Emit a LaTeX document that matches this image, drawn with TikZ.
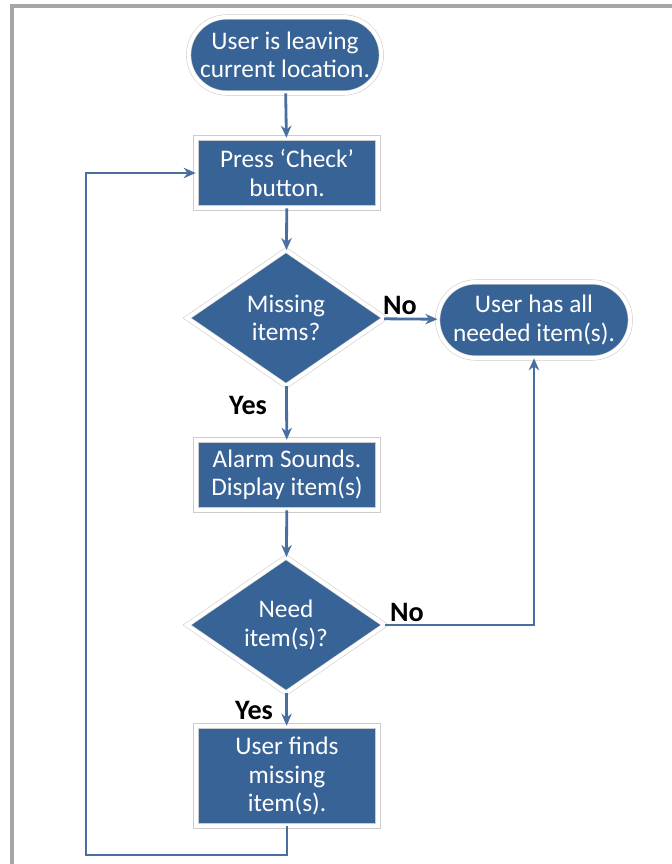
\documentclass[tikz,border=0pt]{standalone}
\usepackage{fontspec}
\setmainfont{Carlito}
\usepackage{tikz}
\usetikzlibrary{arrows.meta,positioning,shapes.geometric,shapes.misc,shadows}

\definecolor{boxblue}{RGB}{56,99,150}
\definecolor{lineblue}{RGB}{74,110,160}
\definecolor{framegray}{RGB}{166,166,166}

\begin{document}
\begin{tikzpicture}[
  x=0.025cm, y=-0.025cm,
  base/.style={fill=boxblue, draw=gray!40, double=white, double distance=2.8pt,
    text=white, align=center, font=\fontsize{18}{20}\selectfont,
    drop shadow={fill=gray!40, shadow xshift=1.2pt, shadow yshift=-1.2pt}},
  term/.style={base, rounded rectangle, minimum width=5.05cm, minimum height=1.9cm},
  proc/.style={base, rectangle, minimum width=4.55cm, minimum height=1.75cm},
  decide/.style={base, diamond, aspect=1.45, inner sep=0pt, minimum width=4.95cm, minimum height=3.4cm},
  lbl/.style={font=\bfseries\fontsize{20}{22}\selectfont, text=black, inner sep=1pt},
  flow/.style={draw=lineblue, line width=2pt, -{Stealth[length=3mm,width=2.6mm]}}
]
\useasboundingbox (0,0) rectangle (672,864);
% outer frame
\draw[framegray, line width=2.2pt] (12,864) -- (12,6) -- (672,6);

\node[term] (start) at (285,55) {User is leaving\\current location.};
\node[proc] (check) at (287,173) {Press `Check'\\button.};
\node[decide] (miss) at (286,318) {Missing\\items?};
\node[term] (allneed) at (534,320) {User has all\\needed item(s).};
\node[proc] (alarm) at (287,475) {Alarm Sounds.\\Display item(s)};
\node[decide] (need) at (286,625) {Need\\item(s)?};
\node[proc, minimum height=2.5cm] (finds) at (287,776) {User finds\\missing\\item(s).};

\node[lbl] (no1) at (400,305) {No};
\node[lbl] (yes1) at (248,405) {Yes};
\node[lbl] (no2) at (407,612) {No};
\node[lbl] (yes2) at (254,710) {Yes};

\coordinate (back) at (86,855);

\draw[flow] (start) -- (check);
\draw[flow] (check) -- (miss);
\draw[flow] (miss) -- (allneed);
\draw[flow] (miss) -- (alarm);
\draw[flow] (alarm) -- (need);
\draw[flow] (need.east) -| (allneed.south);
\draw[flow] (need) -- (finds);
\draw[flow] (finds.south) |- (back) |- (check.west);
\end{tikzpicture}
\end{document}
